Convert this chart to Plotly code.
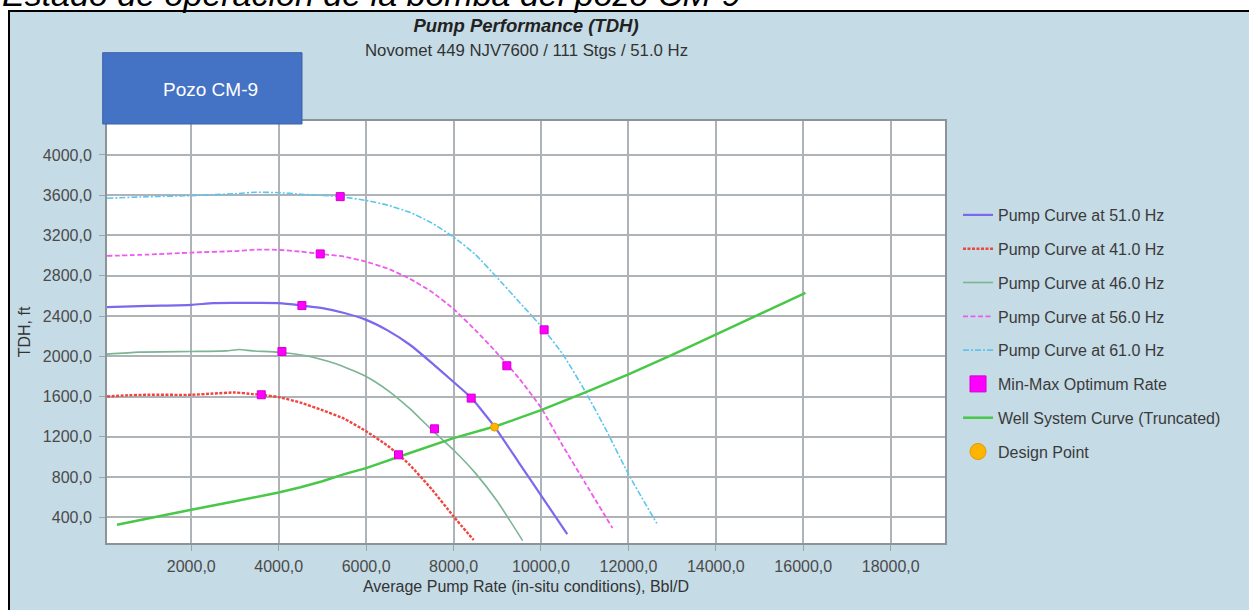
import plotly.graph_objects as go

# ---------------- data ----------------
pump51_x = [72, 1000, 2000, 2500, 3000, 3500, 4000, 4500, 5000, 5500, 6000, 6500, 7000, 7500, 8000, 8400, 8940, 9500, 10000, 10600]
pump51_y = [2488, 2500, 2511, 2528, 2530, 2530, 2528, 2506, 2478, 2430, 2362, 2255, 2115, 1935, 1745, 1590, 1300, 940, 620, 235]

pump41_x = [72, 500, 1000, 2000, 2500, 3000, 3400, 3600, 4000, 4500, 5000, 5500, 6000, 6500, 6750, 7000, 7500, 8000, 8460]
pump41_y = [1601, 1612, 1618, 1618, 1630, 1641, 1625, 1618, 1595, 1540, 1465, 1380, 1255, 1110, 1020, 920, 680, 410, 175]

pump46_x = [72, 800, 2000, 2800, 3100, 3400, 4000, 4600, 5000, 5400, 6000, 6500, 7000, 7500, 8000, 8500, 9000, 9580]
pump46_y = [2022, 2042, 2048, 2054, 2067, 2054, 2041, 2008, 1965, 1912, 1800, 1660, 1480, 1270, 1070, 840, 560, 170]

pump56_x = [72, 1000, 2000, 3000, 3500, 4000, 4500, 4950, 5500, 6000, 6500, 7000, 7500, 8000, 8500, 9000, 9500, 10000, 10500, 11000, 11635]
pump56_y = [2997, 3010, 3030, 3045, 3060, 3057, 3040, 3017, 2990, 2940, 2870, 2770, 2640, 2470, 2260, 2030, 1780, 1490, 1110, 750, 295]

pump61_x = [72, 1000, 2000, 3000, 3500, 4000, 4500, 5000, 5400, 6000, 6500, 7000, 7500, 8000, 8500, 9000, 9500, 10000, 10500, 11000, 11500, 12000, 12650]
pump61_y = [3570, 3585, 3596, 3615, 3630, 3625, 3610, 3598, 3586, 3548, 3500, 3430, 3325, 3185, 3010, 2780, 2540, 2300, 2020, 1660, 1260, 830, 340]

well_x = [300, 1000, 2000, 3000, 4000, 4500, 5000, 5500, 6000, 7000, 8000, 9000, 10000, 11000, 12000, 13000, 14000, 15000, 16050]
well_y = [327, 390, 476, 560, 648, 700, 760, 830, 890, 1040, 1188, 1310, 1465, 1640, 1820, 2015, 2215, 2415, 2630]

minmax_x = [5407, 10072, 4950, 9219, 4531, 8403, 4074, 7563, 3601, 6741]
minmax_y = [3586, 2263, 3017, 1906, 2504, 1585, 2048, 1280, 1618, 1022]

design_x = [8936]
design_y = [1297]

x_ticks = [2000, 4000, 6000, 8000, 10000, 12000, 14000, 16000, 18000]
y_ticks = [400, 800, 1200, 1600, 2000, 2400, 2800, 3200, 3600, 4000]

# ---------------- layout helpers ----------------
W, H = 1249, 610
ML, MR, MT, MB = 107, 304, 121, 67
PW = W - ML - MR
PH = H - MT - MB
FONT = "Liberation Sans, Arial, sans-serif"
BG = "#C5DBE6"


def pxx(px):
    return (px - ML) / PW


def pxy(py):
    return (H - MB - py) / PH


fig = go.Figure()

curves = [
    ("Pump Curve at 51.0 Hz", pump51_x, pump51_y, "#7B68EE", 2.2, "solid", 1),
    ("Pump Curve at 41.0 Hz", pump41_x, pump41_y, "#F0453F", 2.4, "3px,1.5px", 2),
    ("Pump Curve at 46.0 Hz", pump46_x, pump46_y, "#7CB494", 1.6, "solid", 3),
    ("Pump Curve at 56.0 Hz", pump56_x, pump56_y, "#EE5BEE", 1.8, "5px,2.5px", 4),
    ("Pump Curve at 61.0 Hz", pump61_x, pump61_y, "#5CC6EE", 1.6, "6px,2px,2px,2px", 5),
]
for name, xs, ys, col, w, dash, rank in curves:
    fig.add_trace(go.Scatter(
        x=xs, y=ys, mode="lines", name=name,
        line=dict(color=col, width=w, dash=dash, shape="spline", smoothing=0.5),
        legendgroup=name, legendrank=rank,
    ))

fig.add_trace(go.Scatter(
    x=well_x, y=well_y, mode="lines", name="Well System Curve (Truncated)",
    line=dict(color="#48C848", width=2.5), legendgroup="well", legendrank=7,
))

fig.add_trace(go.Scatter(
    x=minmax_x, y=minmax_y, mode="markers", name="Min-Max Optimum Rate",
    marker=dict(symbol="square", size=8, color="#FF00FF", line=dict(width=1, color="#D000D0")),
    legendgroup="mm", showlegend=False,
))
fig.add_trace(go.Scatter(
    x=[None], y=[None], mode="markers", name="Min-Max Optimum Rate",
    marker=dict(symbol="square", size=16, color="#FF00FF", line=dict(width=1, color="#D000D0")),
    legendgroup="mm", legendrank=6,
))

fig.add_trace(go.Scatter(
    x=design_x, y=design_y, mode="markers", name="Design Point",
    marker=dict(symbol="circle", size=8, color="#FFB400", line=dict(width=1, color="#E09A00")),
    legendgroup="dp", showlegend=False,
))
fig.add_trace(go.Scatter(
    x=[None], y=[None], mode="markers", name="Design Point",
    marker=dict(symbol="circle", size=16, color="#FFB400", line=dict(width=1, color="#E09A00")),
    legendgroup="dp", legendrank=8,
))

axis_common = dict(
    showgrid=True, gridcolor="#AEB3B8", gridwidth=1.8,
    ticks="outside", ticklen=6, tickcolor="#A0A4A8", tickwidth=1,
    showline=True, linecolor="#8C9399", linewidth=2, mirror=True,
    zeroline=False, tickformat=".1f",
    tickfont=dict(family=FONT, size=16, color="#4A4A4A"),
)

fig.update_xaxes(
    range=[72, 19242], tickvals=x_ticks,
    title=dict(text="Average Pump Rate (in-situ conditions), Bbl/D",
               font=dict(family=FONT, size=16, color="#333333"), standoff=7),
    ticklabelstandoff=2,
    **axis_common,
)
fig.update_yaxes(
    range=[146, 4337], tickvals=y_ticks,
    title=dict(text="TDH, ft", font=dict(family=FONT, size=16, color="#333333"), standoff=8),
    ticklabelstandoff=4,
    **axis_common,
)

shapes = [
    dict(type="rect", xref="paper", yref="paper", layer="below",
         x0=pxx(9), x1=pxx(1262), y0=pxy(625), y1=pxy(11),
         fillcolor=BG, line=dict(color="black", width=2)),
    dict(type="rect", xref="paper", yref="paper", layer="below",
         x0=0, x1=1, y0=0, y1=1, fillcolor="white", line=dict(width=0)),
    dict(type="rect", xref="paper", yref="paper", layer="above",
         x0=pxx(102.7), x1=pxx(302), y0=pxy(124), y1=pxy(52.7),
         fillcolor="#4472C4", line=dict(color="#3A62A8", width=1)),
]

annotations = [
    dict(text="<i>Estado de operación de la bomba del pozo CM-9</i>",
         xref="paper", yref="paper", x=pxx(0), y=pxy(15.5), xanchor="left", yanchor="bottom",
         showarrow=False, font=dict(family=FONT, size=34, color="black")),
    dict(text="Novomet 449 NJV7600 / 111 Stgs / 51.0 Hz",
         xref="paper", yref="paper", x=0.5, y=pxy(50), xanchor="center", yanchor="middle",
         showarrow=False, font=dict(family=FONT, size=16.8, color="#333333")),
    dict(text="Pozo CM-9",
         xref="paper", yref="paper", x=pxx(210), y=pxy(90), xanchor="center", yanchor="middle",
         showarrow=False, font=dict(family=FONT, size=19, color="white")),
]

fig.update_layout(
    width=W, height=H,
    margin=dict(l=ML, r=MR, t=MT, b=MB, pad=0),
    paper_bgcolor="white", plot_bgcolor="white",
    separators=",.",
    font=dict(family=FONT, size=16, color="#444444"),
    title=dict(text="<b><i>Pump Performance (TDH)</i></b>", x=0.5, xref="paper",
               y=1 - 26 / H, yref="container", xanchor="center", yanchor="middle",
               font=dict(family=FONT, size=18.5, color="#222222")),
    legend=dict(x=pxx(958), y=pxy(198), xanchor="left", yanchor="top",
                bgcolor="rgba(0,0,0,0)", borderwidth=0, tracegroupgap=10,
                itemwidth=30, font=dict(family=FONT, size=16, color="#3A3A3A")),
    shapes=shapes,
    annotations=annotations,
)

fig.write_html("out.html")
